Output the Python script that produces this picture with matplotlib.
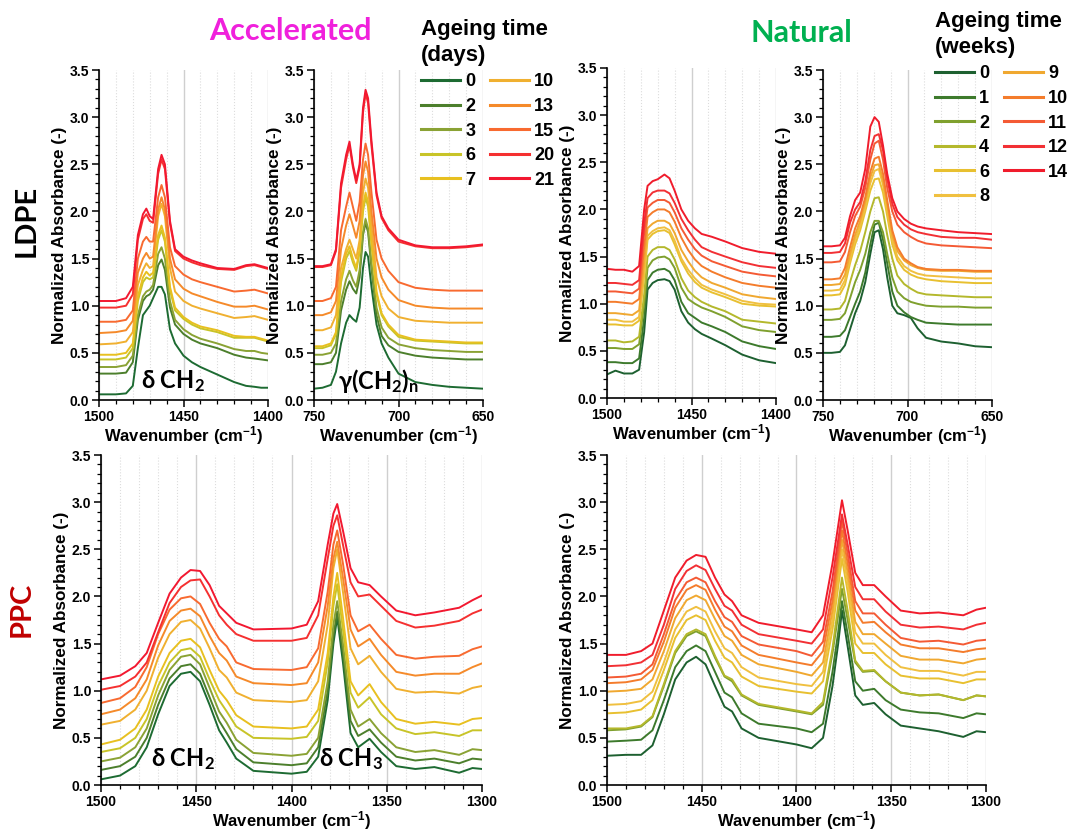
import matplotlib.pyplot as plt
from matplotlib.ticker import MultipleLocator, FormatStrFormatter

plt.rcParams['font.family'] = ['Liberation Sans', 'DejaVu Sans']
plt.rcParams['font.weight'] = 'bold'
plt.rcParams['axes.labelweight'] = 'bold'

# ageing times and colours
acc_days = ['0', '2', '3', '6', '7', '10', '13', '15', '20', '21']
acc_colors = ['#1d6b32', '#4c7f2c', '#8aa234', '#c8c428', '#e8c020',
              '#f0b030', '#f58a2a', '#f86a30', '#f53030', '#f21830']
nat_weeks = ['0', '1', '2', '4', '6', '8', '9', '10', '11', '12', '14']
nat_colors = ['#1d6030', '#3d7a2c', '#7fa02e', '#b4b82c', '#e8c030', '#f0c040',
              '#f0a830', '#f47c2c', '#f45a34', '#f23034', '#f01c2c']

# LDPE accelerated, 1500-1400 cm-1
ldpe_acc_a_x = [1500, 1490, 1484, 1480, 1477, 1474, 1472, 1470, 1468, 1465, 1463, 1461,
                1458, 1455, 1450, 1445, 1440, 1430, 1420, 1413, 1408, 1404, 1400]
ldpe_acc_a = [
    [0.06, 0.06, 0.07, 0.15, 0.55, 0.90, 0.95, 1.00, 1.08, 1.20, 1.20, 1.12, 0.75, 0.60, 0.47, 0.40, 0.35, 0.27, 0.19, 0.15, 0.14, 0.13, 0.13],
    [0.28, 0.28, 0.29, 0.40, 0.85, 1.05, 1.10, 1.12, 1.17, 1.43, 1.49, 1.38, 0.98, 0.80, 0.70, 0.64, 0.60, 0.55, 0.48, 0.45, 0.44, 0.43, 0.42],
    [0.35, 0.35, 0.37, 0.47, 0.90, 1.10, 1.15, 1.17, 1.22, 1.55, 1.62, 1.50, 1.05, 0.85, 0.75, 0.69, 0.65, 0.60, 0.54, 0.52, 0.52, 0.50, 0.49],
    [0.43, 0.43, 0.45, 0.55, 1.05, 1.25, 1.30, 1.28, 1.30, 1.70, 1.80, 1.68, 1.17, 0.95, 0.86, 0.80, 0.76, 0.72, 0.66, 0.66, 0.66, 0.64, 0.62],
    [0.48, 0.48, 0.50, 0.60, 1.10, 1.30, 1.36, 1.32, 1.35, 1.75, 1.85, 1.72, 1.20, 0.98, 0.88, 0.82, 0.78, 0.74, 0.68, 0.67, 0.67, 0.65, 0.63],
    [0.59, 0.60, 0.62, 0.72, 1.22, 1.38, 1.45, 1.40, 1.42, 1.95, 2.08, 1.95, 1.40, 1.15, 1.05, 1.00, 0.97, 0.92, 0.87, 0.88, 0.89, 0.87, 0.85],
    [0.71, 0.72, 0.74, 0.84, 1.35, 1.50, 1.56, 1.50, 1.52, 2.02, 2.15, 2.02, 1.50, 1.28, 1.18, 1.13, 1.10, 1.04, 0.99, 0.99, 1.00, 0.98, 0.96],
    [0.83, 0.83, 0.85, 0.95, 1.50, 1.68, 1.73, 1.68, 1.68, 2.15, 2.28, 2.15, 1.62, 1.42, 1.33, 1.28, 1.25, 1.20, 1.15, 1.16, 1.17, 1.15, 1.13],
    [0.98, 0.98, 1.00, 1.12, 1.70, 1.92, 1.97, 1.90, 1.88, 2.40, 2.55, 2.45, 1.87, 1.58, 1.50, 1.46, 1.43, 1.39, 1.38, 1.42, 1.43, 1.41, 1.39],
    [1.05, 1.05, 1.08, 1.20, 1.75, 1.97, 2.03, 1.95, 1.92, 2.45, 2.60, 2.50, 1.90, 1.60, 1.52, 1.48, 1.45, 1.40, 1.39, 1.43, 1.44, 1.42, 1.40],
]

# LDPE accelerated, 750-650 cm-1
ldpe_acc_b_x = [750, 745, 740, 737, 734, 731, 729, 727, 725, 723, 721, 719.5,
                718, 716, 713, 710, 706, 700, 690, 680, 670, 660, 650]
ldpe_acc_b = [
    [0.12, 0.13, 0.16, 0.30, 0.60, 0.82, 0.90, 0.86, 0.83, 0.98, 1.40, 1.57, 1.52, 1.20, 0.80, 0.60, 0.45, 0.28, 0.19, 0.16, 0.14, 0.13, 0.12],
    [0.38, 0.38, 0.40, 0.50, 0.95, 1.17, 1.26, 1.18, 1.13, 1.30, 1.75, 1.88, 1.78, 1.40, 0.90, 0.68, 0.58, 0.51, 0.47, 0.45, 0.44, 0.43, 0.43],
    [0.48, 0.48, 0.50, 0.60, 1.05, 1.28, 1.37, 1.27, 1.20, 1.38, 1.78, 1.92, 1.82, 1.45, 0.98, 0.77, 0.66, 0.59, 0.55, 0.53, 0.52, 0.51, 0.51],
    [0.55, 0.55, 0.58, 0.70, 1.25, 1.50, 1.58, 1.46, 1.37, 1.57, 2.00, 2.15, 2.05, 1.65, 1.12, 0.90, 0.78, 0.67, 0.63, 0.62, 0.61, 0.60, 0.60],
    [0.57, 0.57, 0.60, 0.72, 1.30, 1.55, 1.63, 1.50, 1.40, 1.60, 2.05, 2.20, 2.10, 1.70, 1.15, 0.92, 0.80, 0.69, 0.64, 0.63, 0.62, 0.61, 0.61],
    [0.74, 0.74, 0.77, 0.90, 1.40, 1.60, 1.70, 1.60, 1.50, 1.70, 2.20, 2.35, 2.25, 1.85, 1.30, 1.10, 0.97, 0.88, 0.84, 0.83, 0.82, 0.82, 0.82],
    [0.90, 0.90, 0.93, 1.05, 1.60, 1.85, 1.97, 1.85, 1.72, 1.90, 2.38, 2.53, 2.42, 2.00, 1.50, 1.30, 1.17, 1.06, 1.00, 0.98, 0.97, 0.97, 0.97],
    [1.05, 1.05, 1.08, 1.20, 1.80, 2.05, 2.20, 2.05, 1.90, 2.10, 2.55, 2.72, 2.60, 2.20, 1.70, 1.50, 1.37, 1.25, 1.19, 1.17, 1.16, 1.16, 1.16],
    [1.41, 1.41, 1.43, 1.58, 2.25, 2.55, 2.70, 2.47, 2.30, 2.47, 3.05, 3.25, 3.15, 2.70, 2.17, 1.93, 1.80, 1.68, 1.63, 1.61, 1.61, 1.62, 1.64],
    [1.42, 1.42, 1.44, 1.60, 2.30, 2.60, 2.74, 2.50, 2.33, 2.50, 3.10, 3.29, 3.20, 2.75, 2.20, 1.95, 1.82, 1.70, 1.64, 1.62, 1.62, 1.63, 1.65],
]

# LDPE natural, 1500-1400 cm-1
ldpe_nat_a_x = [1500, 1495, 1490, 1485, 1481, 1478, 1476, 1473, 1470, 1466, 1463,
                1460, 1456, 1452, 1448, 1444, 1438, 1430, 1420, 1410, 1400]
ldpe_nat_a = [
    [0.25, 0.29, 0.26, 0.26, 0.30, 0.70, 1.15, 1.22, 1.25, 1.26, 1.24, 1.15, 0.92, 0.80, 0.73, 0.68, 0.63, 0.56, 0.46, 0.40, 0.37],
    [0.38, 0.38, 0.37, 0.37, 0.42, 0.85, 1.25, 1.33, 1.36, 1.37, 1.34, 1.25, 1.02, 0.90, 0.85, 0.80, 0.76, 0.70, 0.60, 0.55, 0.52],
    [0.53, 0.53, 0.52, 0.52, 0.57, 1.00, 1.38, 1.46, 1.49, 1.50, 1.47, 1.38, 1.17, 1.05, 1.00, 0.96, 0.92, 0.86, 0.76, 0.72, 0.70],
    [0.61, 0.61, 0.59, 0.60, 0.65, 1.10, 1.50, 1.57, 1.60, 1.60, 1.57, 1.47, 1.27, 1.14, 1.07, 1.02, 0.97, 0.92, 0.83, 0.81, 0.79],
    [0.78, 0.78, 0.77, 0.77, 0.82, 1.30, 1.68, 1.74, 1.77, 1.78, 1.75, 1.63, 1.45, 1.32, 1.23, 1.17, 1.12, 1.07, 1.00, 0.98, 0.97],
    [0.83, 0.83, 0.81, 0.81, 0.86, 1.35, 1.72, 1.77, 1.80, 1.81, 1.78, 1.67, 1.48, 1.36, 1.27, 1.20, 1.15, 1.10, 1.03, 1.00, 0.99],
    [0.90, 0.90, 0.89, 0.88, 0.93, 1.45, 1.80, 1.85, 1.88, 1.88, 1.85, 1.75, 1.57, 1.45, 1.35, 1.28, 1.22, 1.17, 1.10, 1.07, 1.05],
    [1.02, 1.02, 1.01, 1.00, 1.05, 1.60, 1.92, 1.97, 2.00, 2.00, 1.97, 1.87, 1.70, 1.57, 1.47, 1.40, 1.34, 1.28, 1.22, 1.19, 1.17],
    [1.13, 1.13, 1.12, 1.11, 1.16, 1.75, 2.02, 2.07, 2.10, 2.10, 2.07, 1.97, 1.80, 1.68, 1.58, 1.51, 1.45, 1.40, 1.34, 1.31, 1.29],
    [1.22, 1.22, 1.21, 1.20, 1.25, 1.85, 2.12, 2.18, 2.20, 2.20, 2.17, 2.07, 1.90, 1.78, 1.68, 1.60, 1.55, 1.50, 1.44, 1.40, 1.38],
    [1.37, 1.36, 1.36, 1.34, 1.40, 2.00, 2.25, 2.30, 2.32, 2.37, 2.33, 2.20, 2.00, 1.88, 1.80, 1.74, 1.71, 1.66, 1.59, 1.55, 1.53],
]

# LDPE natural, 750-650 cm-1
ldpe_nat_b_x = [750, 745, 740, 737, 734, 731, 728, 725, 722, 719.5, 717, 714.5,
                712, 709, 706, 702, 698, 694, 689, 680, 670, 660, 650]
ldpe_nat_b = [
    [0.50, 0.50, 0.51, 0.58, 0.75, 0.92, 1.05, 1.25, 1.55, 1.78, 1.80, 1.60, 1.30, 1.00, 0.92, 0.90, 0.87, 0.76, 0.66, 0.62, 0.60, 0.57, 0.56],
    [0.67, 0.67, 0.68, 0.74, 0.88, 1.02, 1.15, 1.35, 1.65, 1.86, 1.88, 1.70, 1.45, 1.15, 1.00, 0.93, 0.88, 0.85, 0.82, 0.81, 0.80, 0.80, 0.80],
    [0.85, 0.85, 0.86, 0.92, 1.08, 1.25, 1.38, 1.55, 1.78, 1.90, 1.90, 1.78, 1.55, 1.30, 1.15, 1.08, 1.04, 1.02, 1.00, 0.99, 0.99, 0.98, 0.98],
    [0.96, 0.96, 0.97, 1.05, 1.25, 1.43, 1.58, 1.78, 2.00, 2.14, 2.15, 2.00, 1.75, 1.50, 1.32, 1.23, 1.18, 1.14, 1.12, 1.11, 1.10, 1.09, 1.09],
    [1.11, 1.11, 1.12, 1.22, 1.45, 1.65, 1.80, 2.00, 2.22, 2.34, 2.35, 2.20, 1.95, 1.65, 1.48, 1.38, 1.33, 1.30, 1.28, 1.26, 1.25, 1.24, 1.24],
    [1.16, 1.16, 1.17, 1.27, 1.50, 1.70, 1.85, 2.05, 2.30, 2.43, 2.45, 2.28, 2.02, 1.70, 1.52, 1.42, 1.37, 1.34, 1.32, 1.31, 1.30, 1.29, 1.29],
    [1.22, 1.22, 1.23, 1.33, 1.55, 1.75, 1.90, 2.10, 2.36, 2.49, 2.50, 2.33, 2.07, 1.75, 1.58, 1.48, 1.43, 1.40, 1.38, 1.37, 1.37, 1.36, 1.36],
    [1.28, 1.28, 1.29, 1.40, 1.62, 1.82, 1.95, 2.15, 2.42, 2.56, 2.58, 2.40, 2.12, 1.80, 1.62, 1.50, 1.45, 1.41, 1.39, 1.38, 1.38, 1.37, 1.37],
    [1.46, 1.46, 1.47, 1.57, 1.78, 1.95, 2.05, 2.25, 2.55, 2.72, 2.75, 2.55, 2.25, 2.00, 1.86, 1.78, 1.73, 1.69, 1.66, 1.64, 1.63, 1.62, 1.61],
    [1.56, 1.56, 1.57, 1.66, 1.88, 2.02, 2.10, 2.32, 2.65, 2.80, 2.82, 2.65, 2.35, 2.08, 1.94, 1.86, 1.81, 1.78, 1.76, 1.73, 1.72, 1.72, 1.70],
    [1.63, 1.63, 1.64, 1.72, 1.95, 2.12, 2.20, 2.45, 2.90, 3.00, 2.95, 2.70, 2.40, 2.14, 2.00, 1.92, 1.87, 1.84, 1.82, 1.80, 1.78, 1.77, 1.76],
]

# PPC, 1500-1300 cm-1 (same wavenumbers for both ageing types)
ppc_x = [1500, 1490, 1482, 1476, 1470, 1464, 1458, 1453, 1448, 1443, 1438, 1434, 1429, 1420, 1400, 1392,
         1386, 1381, 1378, 1376, 1373, 1369, 1365, 1359, 1353, 1345, 1335, 1325, 1312, 1305, 1300]
ppc_acc = [
    [0.06, 0.10, 0.20, 0.40, 0.75, 1.05, 1.18, 1.20, 1.10, 0.85, 0.58, 0.45, 0.28, 0.15, 0.12, 0.14, 0.30, 0.90, 1.50, 1.78, 1.30, 0.55, 0.40, 0.49, 0.35, 0.20, 0.17, 0.19, 0.13, 0.18, 0.17],
    [0.16, 0.20, 0.30, 0.50, 0.85, 1.13, 1.26, 1.28, 1.18, 0.93, 0.68, 0.55, 0.38, 0.24, 0.21, 0.23, 0.40, 1.00, 1.58, 1.84, 1.40, 0.68, 0.52, 0.59, 0.45, 0.30, 0.26, 0.28, 0.23, 0.28, 0.27],
    [0.25, 0.29, 0.40, 0.60, 0.95, 1.22, 1.36, 1.38, 1.28, 1.03, 0.78, 0.66, 0.48, 0.34, 0.31, 0.33, 0.50, 1.10, 1.70, 1.95, 1.50, 0.80, 0.62, 0.70, 0.55, 0.40, 0.35, 0.37, 0.32, 0.38, 0.37],
    [0.35, 0.39, 0.50, 0.70, 1.05, 1.30, 1.43, 1.45, 1.36, 1.12, 0.90, 0.78, 0.62, 0.50, 0.49, 0.51, 0.68, 1.30, 1.90, 2.13, 1.65, 0.98, 0.82, 0.93, 0.75, 0.60, 0.54, 0.56, 0.52, 0.58, 0.58],
    [0.43, 0.48, 0.60, 0.80, 1.15, 1.40, 1.53, 1.55, 1.46, 1.22, 1.00, 0.90, 0.74, 0.62, 0.60, 0.62, 0.80, 1.40, 2.00, 2.25, 1.78, 1.10, 0.95, 1.07, 0.88, 0.70, 0.65, 0.67, 0.64, 0.70, 0.71],
    [0.64, 0.68, 0.80, 1.00, 1.35, 1.60, 1.73, 1.75, 1.66, 1.45, 1.22, 1.14, 0.98, 0.90, 0.88, 0.90, 1.10, 1.70, 2.30, 2.50, 2.05, 1.45, 1.28, 1.37, 1.20, 1.02, 0.98, 0.99, 0.97, 1.03, 1.05],
    [0.75, 0.80, 0.92, 1.12, 1.48, 1.74, 1.85, 1.87, 1.79, 1.58, 1.40, 1.32, 1.15, 1.08, 1.06, 1.08, 1.30, 1.90, 2.40, 2.58, 2.20, 1.65, 1.47, 1.55, 1.38, 1.20, 1.16, 1.18, 1.18, 1.25, 1.29],
    [0.87, 0.92, 1.04, 1.25, 1.60, 1.86, 1.98, 2.00, 1.92, 1.72, 1.55, 1.47, 1.30, 1.23, 1.22, 1.25, 1.45, 2.05, 2.55, 2.70, 2.35, 1.80, 1.63, 1.70, 1.55, 1.38, 1.34, 1.36, 1.37, 1.44, 1.47],
    [1.01, 1.05, 1.15, 1.30, 1.62, 1.93, 2.10, 2.17, 2.18, 2.00, 1.80, 1.70, 1.60, 1.53, 1.53, 1.56, 1.80, 2.40, 2.75, 2.86, 2.55, 2.15, 2.00, 2.02, 1.90, 1.74, 1.67, 1.69, 1.74, 1.82, 1.86],
    [1.12, 1.16, 1.26, 1.40, 1.72, 2.03, 2.20, 2.28, 2.27, 2.12, 1.90, 1.82, 1.72, 1.65, 1.66, 1.70, 1.95, 2.55, 2.88, 2.98, 2.70, 2.30, 2.15, 2.12, 2.00, 1.85, 1.80, 1.83, 1.88, 1.96, 2.01],
]
ppc_nat = [
    [0.31, 0.32, 0.32, 0.42, 0.75, 1.12, 1.30, 1.36, 1.28, 1.05, 0.83, 0.78, 0.60, 0.50, 0.43, 0.39, 0.50, 1.05, 1.50, 1.85, 1.47, 0.95, 0.85, 0.87, 0.75, 0.63, 0.60, 0.57, 0.51, 0.57, 0.56],
    [0.46, 0.47, 0.48, 0.58, 0.90, 1.25, 1.42, 1.48, 1.42, 1.20, 0.98, 0.93, 0.76, 0.65, 0.60, 0.56, 0.65, 1.20, 1.62, 1.95, 1.60, 1.10, 1.00, 1.02, 0.90, 0.80, 0.77, 0.76, 0.71, 0.76, 0.75],
    [0.58, 0.59, 0.62, 0.72, 1.05, 1.40, 1.58, 1.63, 1.58, 1.35, 1.15, 1.10, 0.95, 0.85, 0.78, 0.75, 0.85, 1.40, 1.80, 2.08, 1.75, 1.30, 1.20, 1.21, 1.10, 0.98, 0.95, 0.96, 0.90, 0.95, 0.94],
    [0.60, 0.60, 0.63, 0.73, 1.07, 1.42, 1.60, 1.65, 1.60, 1.37, 1.16, 1.12, 0.96, 0.86, 0.79, 0.76, 0.88, 1.45, 1.90, 2.20, 1.85, 1.32, 1.21, 1.22, 1.10, 0.98, 0.95, 0.96, 0.90, 0.95, 0.94],
    [0.76, 0.77, 0.80, 0.90, 1.22, 1.56, 1.75, 1.80, 1.75, 1.53, 1.35, 1.30, 1.15, 1.05, 0.99, 0.97, 1.10, 1.65, 2.10, 2.40, 2.05, 1.50, 1.40, 1.40, 1.28, 1.16, 1.13, 1.13, 1.08, 1.12, 1.12],
    [0.85, 0.86, 0.89, 0.99, 1.30, 1.65, 1.84, 1.89, 1.84, 1.63, 1.45, 1.40, 1.25, 1.14, 1.07, 1.05, 1.20, 1.75, 2.20, 2.50, 2.15, 1.62, 1.50, 1.50, 1.38, 1.25, 1.21, 1.21, 1.16, 1.20, 1.20],
    [0.99, 1.00, 1.02, 1.12, 1.42, 1.77, 1.96, 2.01, 1.96, 1.76, 1.58, 1.53, 1.38, 1.28, 1.20, 1.16, 1.30, 1.85, 2.30, 2.60, 2.25, 1.73, 1.60, 1.60, 1.50, 1.37, 1.33, 1.33, 1.29, 1.33, 1.34],
    [1.08, 1.09, 1.12, 1.22, 1.52, 1.88, 2.07, 2.12, 2.07, 1.86, 1.68, 1.63, 1.48, 1.38, 1.30, 1.27, 1.42, 1.95, 2.40, 2.70, 2.35, 1.85, 1.72, 1.73, 1.62, 1.49, 1.45, 1.45, 1.41, 1.44, 1.45],
    [1.14, 1.15, 1.18, 1.28, 1.60, 1.96, 2.15, 2.20, 2.15, 1.95, 1.78, 1.73, 1.58, 1.49, 1.42, 1.37, 1.52, 2.05, 2.50, 2.80, 2.45, 1.95, 1.82, 1.82, 1.70, 1.56, 1.52, 1.53, 1.49, 1.53, 1.54],
    [1.26, 1.27, 1.30, 1.38, 1.70, 2.08, 2.27, 2.33, 2.28, 2.08, 1.90, 1.85, 1.70, 1.60, 1.53, 1.50, 1.65, 2.20, 2.60, 2.87, 2.55, 2.10, 1.97, 1.97, 1.84, 1.70, 1.67, 1.68, 1.65, 1.70, 1.72],
    [1.38, 1.38, 1.42, 1.50, 1.85, 2.20, 2.38, 2.44, 2.42, 2.20, 2.02, 1.95, 1.80, 1.72, 1.65, 1.62, 1.80, 2.35, 2.75, 3.02, 2.70, 2.25, 2.12, 2.12, 2.00, 1.85, 1.82, 1.83, 1.80, 1.86, 1.88],
]

W, H = 1072, 830


def add_panel(rect, x, curves, colors, labels, xlim):
    l, t, r, b = rect
    ax = fig.add_axes([l / W, 1 - b / H, (r - l) / W, (b - t) / H])
    for y, c, lab in zip(curves, colors, labels):
        ax.plot(x, y, color=c, lw=1.4, label=lab)
    ax.set_xlim(*xlim)
    ax.set_ylim(0, 3.5)
    ax.xaxis.set_major_locator(MultipleLocator(50))
    ax.xaxis.set_minor_locator(MultipleLocator(10))
    ax.yaxis.set_major_locator(MultipleLocator(0.5))
    ax.yaxis.set_minor_locator(MultipleLocator(0.1))
    ax.yaxis.set_major_formatter(FormatStrFormatter('%.1f'))
    ax.grid(axis='x', which='major', color='#cfcfcf', lw=1.0, ls='-')
    ax.grid(axis='x', which='minor', color='#dcdcdc', lw=0.8, ls=':')
    ax.set_axisbelow(True)
    for s in ['top', 'right']:
        ax.spines[s].set_visible(False)
    for s in ['left', 'bottom']:
        ax.spines[s].set_linewidth(1.2)
    ax.tick_params(which='major', direction='out', length=5, width=1.1, labelsize=10, pad=2)
    ax.tick_params(which='minor', direction='out', length=3, width=0.9)
    ax.set_ylabel('Normalized Absorbance (-)', fontsize=12.3, labelpad=2)
    ax.set_xlabel(r'Wavenumber (cm$\mathregular{^{-1}}$)', fontsize=12, labelpad=0)
    return ax


fig = plt.figure(figsize=(10.72, 8.3), dpi=100)

ax_a = add_panel((99, 70, 268, 400), ldpe_acc_a_x, ldpe_acc_a, acc_colors, acc_days, (1500, 1400))
ax_b = add_panel((314, 70, 483, 400), ldpe_acc_b_x, ldpe_acc_b, acc_colors, acc_days, (750, 650))
ax_c = add_panel((607, 68, 776, 398), ldpe_nat_a_x, ldpe_nat_a, nat_colors, nat_weeks, (1500, 1400))
ax_d = add_panel((823, 70, 992, 400), ldpe_nat_b_x, ldpe_nat_b, nat_colors, nat_weeks, (750, 650))
ax_e = add_panel((101, 455, 482, 785), ppc_x, ppc_acc, acc_colors, acc_days, (1500, 1300))
ax_f = add_panel((607, 455, 986, 785), ppc_x, ppc_nat, nat_colors, nat_weeks, (1500, 1300))

# peak annotations
cal = ['Lato', 'DejaVu Sans']
ann = dict(fontsize=17, fontweight='bold', family=cal, ha='center', va='center')
ax_a.text(1456, 0.2, r'δ CH$\mathregular{_2}$', **ann)
ax_b.text(712, 0.2, r'γ(CH$\mathregular{_2}$)$\mathregular{_n}$', **ann)
ax_e.text(1457, 0.27, r'δ CH$\mathregular{_2}$', **ann)
ax_e.text(1369, 0.27, r'δ CH$\mathregular{_3}$', **ann)

# legends
leg_kw = dict(ncol=2, loc='upper left', frameon=False, bbox_transform=fig.transFigure,
              prop={'weight': 'bold', 'size': 13},
              title_fontproperties={'weight': 'bold', 'size': 16},
              alignment='left', handlelength=2.15, handletextpad=0.3,
              labelspacing=0.42, columnspacing=0.8, borderpad=0, borderaxespad=0)
leg1 = ax_b.legend(title='Ageing time\n(days)', bbox_to_anchor=(421 / W, 1 - 19 / H), **leg_kw)
leg2 = ax_d.legend(title='Ageing time\n(weeks)', bbox_to_anchor=(935 / W, 1 - 11 / H), **leg_kw)
for leg in (leg1, leg2):
    leg.get_title().set_linespacing(1.3)
    for h in leg.get_lines():
        h.set_linewidth(2.2)

# group titles and row labels
fig.text(290 / W, 1 - 31 / H, 'Accelerated', color='#f020dc', fontsize=22,
         fontweight='bold', family=cal, ha='center', va='center')
fig.text(801 / W, 1 - 33 / H, 'Natural', color='#00b050', fontsize=22,
         fontweight='bold', family=cal, ha='center', va='center')
fig.text(27 / W, 1 - 221 / H, 'LDPE', color='black', fontsize=21, rotation=90,
         fontweight='bold', family=cal, ha='center', va='center')
fig.text(22 / W, 1 - 609 / H, 'PPC', color='#c00000', fontsize=21, rotation=90,
         fontweight='bold', family=cal, ha='center', va='center')

fig.savefig('out.png', dpi=100)
